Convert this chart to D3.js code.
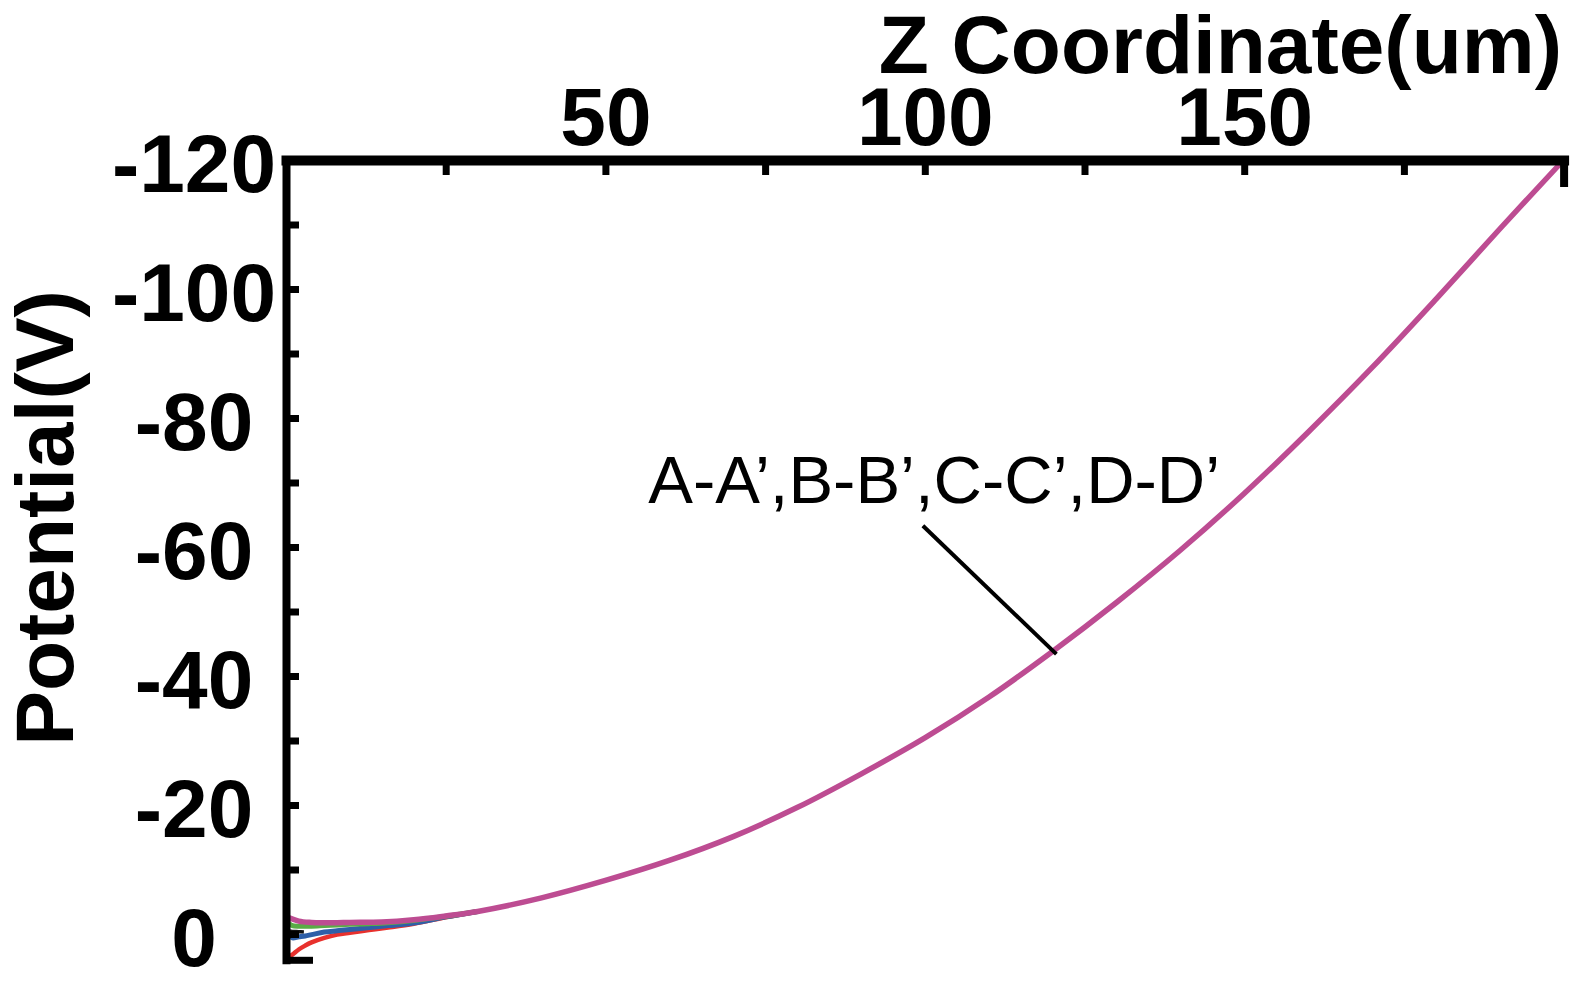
<!DOCTYPE html>
<meta charset="utf-8">
<style>
  body { margin: 0; background: #fff; }
  text { font-family: "Liberation Sans", Arial, sans-serif; fill: #000; }
</style>
<svg width="1576" height="997"></svg>
<script src="https://d3js.org/d3.v7.min.js"></script>
<script>

// Z coordinate (um) and potential (V).
var zMain = [0, 2, 4, 6, 8, 10, 15, 20, 25, 30, 40, 50, 60, 70, 80, 90, 100,
             110, 120, 130, 140, 150, 160, 170, 180, 190, 200];
var vD = [-2.7, -2.0, -1.8, -1.75, -1.75, -1.8, -1.85, -2.2, -2.8, -3.5, -5.6, -8.3, -11.4,
          -15.1, -19.6, -24.8, -30.4, -36.7, -43.8, -51.4, -59.5, -68.3, -77.8, -87.8,
          -98.4, -109.3, -120];

// the other sections only separate near the bottom electrode
var zNear = [0, 0.5, 1, 2, 3, 4, 6, 8, 10, 13, 16, 20, 25, 30];
var vA = [3.8, 3.5, 3.2, 2.4, 1.8, 1.3, 0.6, 0.1, -0.2, -0.6, -1.0, -1.6, -2.6, -3.5];
var vB = [-0.8, 0.2, 0.6, 0.45, 0.3, 0.1, -0.3, -0.5, -0.7, -1.0, -1.3, -1.7, -2.65, -3.5];
var vC = [-2.2, -1.6, -1.3, -1.2, -1.2, -1.2, -1.3, -1.4, -1.5, -1.6, -1.75, -2.1, -2.75, -3.5];
var zBlack = [0.5, 1, 2, 2.8];
var vBlack = [-0.45, -0.4, -0.35, -0.3];

var xMinor = [25, 50, 75, 100, 125, 150, 175, 200],
    xLabels = [50, 100, 150],
    yMinor = [-110, -100, -90, -80, -70, -60, -50, -40, -30, -20, -10, 0, 4],
    yLabels = [-120, -100, -80, -60, -40, -20, 0];

var noteText = "A-A\u2019,B-B\u2019,C-C\u2019,D-D\u2019",
    notePos = [56.7, -66.8],
    leader = [[99.7, -63.3], [120.6, -43.4]];

var svg = d3.select("svg");

var x = d3.scaleLinear().domain([0, 200]).range([286, 1563.6]),
    y = d3.scaleLinear().domain([-120, 4]).range([160, 959.8]);

var line = d3.line()
    .x(function(d) { return x(d[0]); })
    .y(function(d) { return y(d[1]); })
    .curve(d3.curveCatmullRom.alpha(0.5));

function pairs(zs, vs) { return zs.map(function(z, i) { return [z, vs[i]]; }); }

var series = [
  {values: pairs(zBlack, vBlack), color: "#111", width: 3.5},
  {values: pairs(zNear, vA), color: "#e8312d", width: 4.5},
  {values: pairs(zNear, vB), color: "#2e5fa8", width: 5},
  {values: pairs(zNear, vC), color: "#5aab46", width: 5},
  {values: pairs(zMain, vD), color: "#bd4c92", width: 5.5}
];

svg.append("g").selectAll("path")
  .data(series)
  .enter().append("path")
    .attr("fill", "none")
    .attr("stroke", function(d) { return d.color; })
    .attr("stroke-width", function(d) { return d.width; })
    .attr("d", function(d) { return line(d.values); });

var plain = function(d) { return String(d); }; // keep the ASCII hyphen

// top axis
var gx = svg.append("g")
    .attr("transform", "translate(0," + y(-120) + ")")
    .call(d3.axisTop(x).tickValues(xMinor).tickSize(-15).tickSizeOuter(0).tickFormat(""));
gx.select(".domain").attr("stroke", "#000").attr("stroke-width", 10).attr("stroke-linecap", "square");
gx.selectAll(".tick line").attr("stroke", "#000").attr("stroke-width", 7)
    .filter(function(d) { return d === 200; }).attr("y2", 27).attr("stroke-width", 8);

var gxl = svg.append("g")
    .attr("transform", "translate(0," + y(-120) + ")")
    .call(d3.axisTop(x).tickValues(xLabels).tickSize(0).tickFormat(plain));
gxl.select(".domain").remove();
gxl.selectAll("text")
    .attr("y", -15).attr("dy", 0)
    .style("font-size", "82px").style("font-weight", "bold");

// left axis
var gy = svg.append("g")
    .attr("transform", "translate(" + x(0) + ",0)")
    .call(d3.axisLeft(y).tickValues(yMinor).tickSize(-13).tickSizeOuter(0).tickFormat(""));
gy.select(".domain").attr("stroke", "#000").attr("stroke-width", 8).attr("stroke-linecap", "square");
gy.selectAll(".tick line").attr("stroke", "#000").attr("stroke-width", 7)
    .filter(function(d) { return d === 4; }).attr("x2", 27);

var gyl = svg.append("g")
    .attr("transform", "translate(" + x(0) + ",0)")
    .call(d3.axisLeft(y).tickValues(yLabels).tickSize(0).tickFormat(plain));
gyl.select(".domain").remove();
gyl.selectAll("text")
    .attr("x", -92).attr("dy", "0.39em")
    .attr("text-anchor", "middle")
    .style("font-size", "82px").style("font-weight", "bold");

// axis titles
svg.append("text")
    .attr("x", 1562).attr("y", 73)
    .attr("text-anchor", "end")
    .style("font-size", "82px").style("font-weight", "bold")
    .text("Z Coordinate(um)");

svg.append("text")
    .attr("transform", "translate(73,518) rotate(-90)")
    .attr("text-anchor", "middle")
    .style("font-size", "82px").style("font-weight", "bold")
    .text("Potential(V)");

// annotation
svg.append("text")
    .attr("x", x(notePos[0])).attr("y", y(notePos[1]))
    .style("font-size", "67px")
    .text(noteText);

svg.append("line")
    .attr("x1", x(leader[0][0])).attr("y1", y(leader[0][1]))
    .attr("x2", x(leader[1][0])).attr("y2", y(leader[1][1]))
    .attr("stroke", "#000").attr("stroke-width", 4);

</script>
